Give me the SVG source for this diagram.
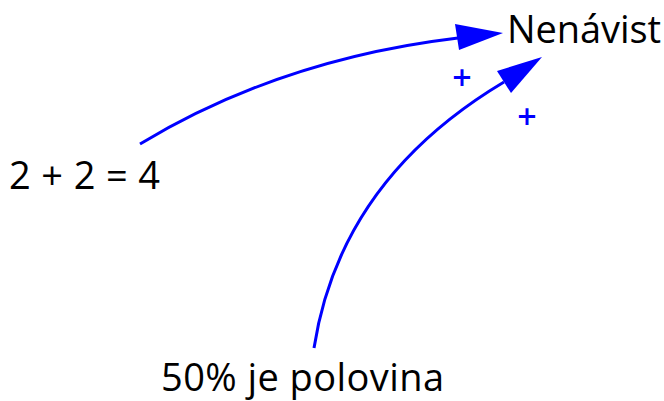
<svg xmlns="http://www.w3.org/2000/svg" width="664" height="401" viewBox="0 0 664 401">
<style>
.lbl{font-family:"Open Sans","Liberation Sans",sans-serif;font-size:38px;fill:#000}
.pl{font-family:"Open Sans","Liberation Sans",sans-serif;font-size:34px;font-weight:600;fill:#0000ff;text-anchor:middle}
.edge{fill:none;stroke:#0000ff;stroke-width:3}
.head{fill:#0000ff}
</style>
<g id="n1"><text class="lbl" x="507" y="43" textLength="154">Nenávist</text></g>
<g id="n2"><text class="lbl" x="9" y="189" textLength="151">2 + 2 = 4</text></g>
<g id="n3"><text class="lbl" x="161" y="391" textLength="283">50% je polovina</text></g>
<g id="edges">
<path class="edge" d="M140,144 Q281,59 458,38"/>
<polygon class="head" points="503,33 455,24 459,50"/>
<text class="pl" x="462" y="90">+</text>
<path class="edge" d="M314,348 Q340,180 504,82"/>
<polygon class="head" points="542,57 497,71 511,93"/>
<text class="pl" x="527" y="129">+</text>
</g>
</svg>
